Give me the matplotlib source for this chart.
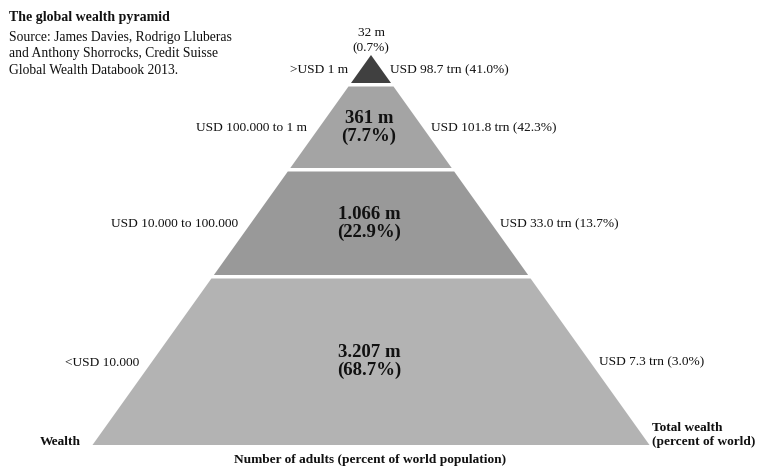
import matplotlib
matplotlib.use('Agg')
import matplotlib.pyplot as plt
from matplotlib.patches import Polygon

plt.rcParams['font.family'] = ['Liberation Serif', 'DejaVu Serif']

#Data (Credit Suisse Global Wealth Databook 2013)
tiers = ['>USD 1 m', 'USD 100.000 to 1 m', 'USD 10.000 to 100.000', '<USD 10.000']
adults_m = [32, 361, 1066, 3207]
adults_pct = [0.7, 7.7, 22.9, 68.7]
wealth_trn = [98.7, 101.8, 33.0, 7.3]
wealth_pct = [41.0, 42.3, 13.7, 3.0]
tier_colors = ['#404040', '#a4a4a4', '#999999', '#b3b3b3']

#Layout of the pyramid (pixel space)
apex_x, apex_y = 371, 55
base_y, base_half = 445, 278.5
tier_bottoms = [83, 168, 275, 445]
gap = 3.5
txt = '#111111'


def half_width(y):
    return base_half * (y - apex_y) / (base_y - apex_y)


def fmt_m(v):
    return '{:,}'.format(v).replace(',', '.') + ' m'


fig = plt.figure(figsize=(7.66, 4.66), dpi=100)
ax = fig.add_axes([0, 0, 1, 1])
ax.set_xlim(0, 766)
ax.set_ylim(466, 0)
ax.axis('off')

top = apex_y
for i in range(len(tiers)):
    bot = tier_bottoms[i]
    t = top if i == 0 else top + gap
    ht, hb = half_width(t), half_width(bot)
    pts = [(apex_x - ht, t), (apex_x + ht, t), (apex_x + hb, bot), (apex_x - hb, bot)]
    ax.add_patch(Polygon(pts, closed=True, facecolor=tier_colors[i], edgecolor='none'))

    mid = (t + bot) / 2 + 1
    hm = half_width(mid)
    ax.text(apex_x - hm - 12, mid, tiers[i], ha='right', va='center', fontsize=9.6, color=txt)
    ax.text(apex_x + hm + 8, mid, 'USD {:.1f} trn ({:.1f}%)'.format(wealth_trn[i], wealth_pct[i]),
            ha='left', va='center', fontsize=9.6, color=txt)
    lab = '{}\n({:.1f}%)'.format(fmt_m(adults_m[i]), adults_pct[i])
    if i == 0:
        ax.text(apex_x, apex_y - 14, lab, ha='center', va='center', fontsize=9.6,
                color=txt, linespacing=1.35)
    else:
        ax.text(apex_x - 2, mid - 1, lab, ha='center', va='center', fontsize=13.5,
                fontweight='bold', color=txt, linespacing=1.05)
    top = bot

#Titles and axis captions
ax.text(9, 17, 'The global wealth pyramid', ha='left', va='center', fontsize=10,
        fontweight='bold', color=txt)
ax.text(9, 31, 'Source: James Davies, Rodrigo Lluberas\nand Anthony Shorrocks, Credit Suisse\n'
        'Global Wealth Databook 2013.', ha='left', va='top', fontsize=9.8, color=txt,
        linespacing=1.33)
ax.text(40, 442, 'Wealth', ha='left', va='center', fontsize=9.6, fontweight='bold', color=txt)
ax.text(652, 435, 'Total wealth\n(percent of world)', ha='left', va='center', fontsize=9.6,
        fontweight='bold', color=txt, linespacing=1.2)
ax.text(370, 460, 'Number of adults (percent of world population)', ha='center', va='center',
        fontsize=9.6, fontweight='bold', color=txt)

fig.savefig('out.png', dpi=100, facecolor='white')
